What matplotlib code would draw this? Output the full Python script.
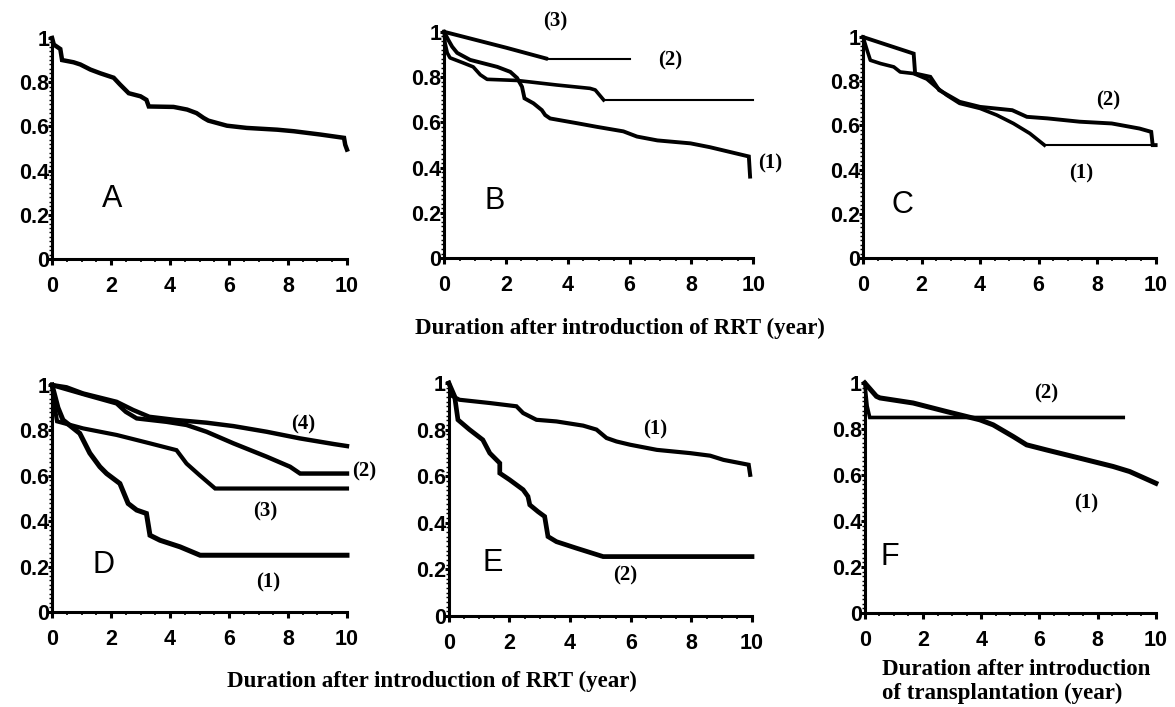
import matplotlib
matplotlib.use('Agg')
import matplotlib.pyplot as plt
from matplotlib.ticker import MultipleLocator, FixedLocator

# survival curves (x = years, y = survival fraction)
a_x = [0, 0.06, 0.28, 0.34, 0.73, 0.96, 1.3, 1.64, 2.09, 2.3, 2.6, 3.0, 3.2, 3.28, 4.12, 4.58, 4.9, 5.14, 5.3, 5.93, 6.6, 7.63, 8.2, 9.1, 9.9, 9.94, 10]
a_y = [1.0, 0.97, 0.95, 0.90, 0.89, 0.88, 0.857, 0.84, 0.82, 0.79, 0.75, 0.736, 0.72, 0.69, 0.688, 0.676, 0.66, 0.638, 0.626, 0.603, 0.593, 0.585, 0.578, 0.563, 0.548, 0.517, 0.495]

b1_x = [0, 0.13, 0.26, 0.42, 0.84, 1.72, 2.14, 2.36, 2.52, 2.6, 2.89, 3.16, 3.27, 3.43, 4.3, 4.94, 5.8, 6.24, 6.9, 7.97, 8.6, 9.86, 9.9]
b1_y = [1.0, 0.965, 0.934, 0.907, 0.876, 0.845, 0.823, 0.796, 0.757, 0.706, 0.684, 0.654, 0.632, 0.617, 0.596, 0.58, 0.56, 0.537, 0.52, 0.507, 0.49, 0.449, 0.36]
b2_x = [0, 0.03, 0.1, 0.19, 0.61, 0.94, 1.17, 1.39, 2.36, 3.64, 4.72, 4.89, 5.16, 10]
b2_y = [1.0, 0.95, 0.907, 0.885, 0.863, 0.845, 0.81, 0.79, 0.785, 0.765, 0.75, 0.743, 0.699, 0.699]
b3_x = [0, 1.0, 2.0, 3.3, 6.0]
b3_y = [1.0, 0.965, 0.93, 0.882, 0.882]

c1_x = [0, 0.14, 0.25, 0.6, 1.05, 1.27, 1.73, 2.18, 2.5, 2.86, 3.3, 4.0, 4.57, 5.14, 5.7, 6.2, 10]
c1_y = [1.0, 0.94, 0.895, 0.88, 0.865, 0.842, 0.835, 0.81, 0.774, 0.737, 0.7, 0.677, 0.647, 0.609, 0.564, 0.511, 0.511]
c2_x = [0, 1.73, 1.78, 2.3, 2.6, 3.3, 4.0, 5.1, 5.6, 6.3, 7.4, 8.5, 9.45, 9.85, 9.9, 10]
c2_y = [1.0, 0.925, 0.835, 0.82, 0.76, 0.707, 0.684, 0.669, 0.639, 0.632, 0.617, 0.609, 0.586, 0.571, 0.511, 0.511]

d1_x = [0, 0.2, 0.37, 0.94, 1.28, 1.62, 1.85, 2.3, 2.58, 2.87, 3.2, 3.32, 3.66, 4.34, 5.02, 10]
d1_y = [1.0, 0.9, 0.846, 0.787, 0.7, 0.64, 0.61, 0.566, 0.478, 0.449, 0.434, 0.338, 0.316, 0.287, 0.25, 0.25]
d2_x = [0, 1.17, 2.19, 2.5, 2.87, 3.88, 4.56, 5.24, 6.15, 7.28, 8.07, 8.41, 10]
d2_y = [1.0, 0.956, 0.919, 0.882, 0.853, 0.838, 0.824, 0.794, 0.743, 0.684, 0.64, 0.61, 0.61]
d3_x = [0, 0.09, 0.17, 1.05, 2.19, 3.32, 4.22, 4.56, 5.0, 5.53, 10]
d3_y = [1.0, 0.9, 0.84, 0.809, 0.78, 0.743, 0.713, 0.654, 0.603, 0.544, 0.544]
d4_x = [0, 0.49, 1.05, 2.19, 2.75, 3.3, 4.2, 5.24, 6.15, 7.28, 8.4, 9.55, 10]
d4_y = [1.0, 0.99, 0.963, 0.926, 0.89, 0.86, 0.846, 0.834, 0.819, 0.794, 0.765, 0.74, 0.731]

e1_x = [0, 0.13, 0.35, 1.35, 2.23, 2.45, 2.89, 3.55, 4.43, 4.87, 5.2, 5.53, 5.98, 6.86, 7.96, 8.62, 9.06, 9.89, 9.94]
e1_y = [1.0, 0.943, 0.928, 0.914, 0.9, 0.871, 0.842, 0.835, 0.817, 0.8, 0.764, 0.749, 0.735, 0.713, 0.699, 0.688, 0.67, 0.649, 0.606]
e2_x = [0, 0.19, 0.3, 0.68, 1.12, 1.35, 1.68, 1.68, 2.0, 2.45, 2.61, 2.67, 2.94, 3.16, 3.27, 3.55, 4.21, 5.09, 10]
e2_y = [1.0, 0.943, 0.842, 0.8, 0.756, 0.699, 0.656, 0.613, 0.585, 0.542, 0.513, 0.477, 0.448, 0.427, 0.341, 0.319, 0.291, 0.255, 0.255]

f1_x = [0, 0.4, 0.52, 1.66, 2.8, 3.95, 4.41, 5.1, 5.56, 6.24, 7.39, 8.53, 9.1, 10]
f1_y = [1.0, 0.942, 0.935, 0.913, 0.876, 0.84, 0.818, 0.767, 0.731, 0.709, 0.673, 0.637, 0.615, 0.564]
f2_x = [0, 0.08, 0.17, 8.88]
f2_y = [1.0, 0.9, 0.85, 0.85]

y_ticks = [0, 0.2, 0.4, 0.6, 0.8, 1.0]
y_ticklabels = ['0', '0.2', '0.4', '0.6', '0.8', '1']
x_ticks = [0, 2, 4, 6, 8, 10]

SANS = 'Liberation Sans'
SERIF = 'Liberation Serif'

fig = plt.figure(figsize=(11.75, 7.07), dpi=100)


def make_axes(rect, letter, letter_xy):
    ax = fig.add_axes(rect)
    ax.set_xlim(0, 10)
    ax.set_ylim(0, 1)
    for s in ['top', 'right']:
        ax.spines[s].set_visible(False)
    for s in ['left', 'bottom']:
        ax.spines[s].set_linewidth(2.2)
    ax.xaxis.set_major_locator(FixedLocator(x_ticks))
    ax.xaxis.set_minor_locator(MultipleLocator(0.5))
    ax.yaxis.set_major_locator(FixedLocator(y_ticks))
    ax.yaxis.set_minor_locator(MultipleLocator(0.02))
    ax.set_yticklabels(y_ticklabels)
    ax.tick_params(axis='x', which='major', direction='out', length=4, width=2.2, pad=8)
    ax.tick_params(axis='x', which='minor', direction='out', length=2, width=1.2)
    ax.tick_params(axis='y', which='major', direction='out', length=3, width=2.2, pad=-1)
    ax.tick_params(axis='y', which='minor', direction='out', length=2, width=1.0)
    for lab in ax.get_xticklabels() + ax.get_yticklabels():
        lab.set_fontfamily(SANS)
        lab.set_fontweight('bold')
        lab.set_fontsize(15.5)
    ax.text(letter_xy[0], letter_xy[1], letter, fontsize=22, family=SANS,
            ha='center', va='center')
    return ax


def curve(ax, x, y, lw=3.0, tail=None, tail_lw=1.5):
    # tail = index where the thin flat part starts
    if tail is None:
        ax.plot(x, y, color='black', lw=lw, solid_joinstyle='miter', clip_on=False)
    else:
        ax.plot(x[:tail + 1], y[:tail + 1], color='black', lw=lw, clip_on=False)
        ax.plot(x[tail:], y[tail:], color='black', lw=tail_lw, clip_on=False)


def tag(ax, x, y, s):
    ax.text(x, y, s, fontsize=15, family=SERIF, fontweight='bold',
            ha='center', va='center', clip_on=False)


# panel A
ax = make_axes([0.0443, 0.6337, 0.251, 0.3126], 'A', (2.03, 0.27))
curve(ax, a_x, a_y, lw=3.2)

# panel B
ax = make_axes([0.378, 0.635, 0.263, 0.320], 'B', (1.64, 0.25))
curve(ax, b1_x, b1_y, lw=2.8)
curve(ax, b2_x, b2_y, lw=2.6, tail=len(b2_x) - 2)
curve(ax, b3_x, b3_y, lw=2.8, tail=len(b3_x) - 2)
tag(ax, 3.59, 1.045, '(3)')
tag(ax, 7.32, 0.875, '(2)')
tag(ax, 10.56, 0.42, '(1)')

# panel C
ax = make_axes([0.7345, 0.635, 0.249, 0.3126], 'C', (1.33, 0.24))
curve(ax, c1_x, c1_y, lw=2.6, tail=len(c1_x) - 2)
curve(ax, c2_x, c2_y, lw=2.8)
tag(ax, 8.38, 0.714, '(2)')
tag(ax, 7.47, 0.383, '(1)')

fig.text(0.528, 0.536, 'Duration after introduction of RRT (year)', fontsize=16.5,
         family=SERIF, fontweight='bold', ha='center', va='center')

# panel D
ax = make_axes([0.0443, 0.1344, 0.251, 0.321], 'D', (1.73, 0.206))
curve(ax, d1_x, d1_y, lw=3.6)
curve(ax, d2_x, d2_y, lw=3.2)
curve(ax, d3_x, d3_y, lw=3.0)
curve(ax, d4_x, d4_y, lw=3.2)
tag(ax, 8.53, 0.824, '(4)')
tag(ax, 10.57, 0.618, '(2)')
tag(ax, 7.23, 0.441, '(3)')
tag(ax, 7.34, 0.132, '(1)')

# panel E
ax = make_axes([0.382, 0.1287, 0.258, 0.3296], 'E', (1.46, 0.226))
curve(ax, e1_x, e1_y, lw=3.0)
curve(ax, e2_x, e2_y, lw=3.4)
tag(ax, 6.8, 0.8, '(1)')
tag(ax, 5.81, 0.176, '(2)')

fig.text(0.368, 0.036, 'Duration after introduction of RRT (year)', fontsize=16.5,
         family=SERIF, fontweight='bold', ha='center', va='center')

# panel F
ax = make_axes([0.736, 0.133, 0.2477, 0.3253], 'F', (0.86, 0.244))
curve(ax, f1_x, f1_y, lw=3.6)
curve(ax, f2_x, f2_y, lw=2.6)
tag(ax, 6.24, 0.956, '(2)')
tag(ax, 7.62, 0.477, '(1)')

fig.text(0.7506, 0.0365, 'Duration after introduction\nof transplantation (year)',
         fontsize=16.5, family=SERIF, fontweight='bold', ha='left', va='center',
         linespacing=1.15)

plt.savefig('out.png', dpi=100)
